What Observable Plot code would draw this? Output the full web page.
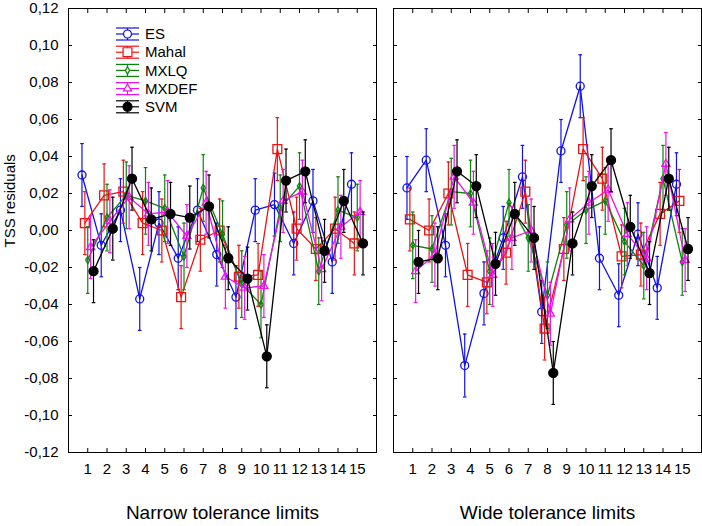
<!DOCTYPE html>
<html><head><meta charset="utf-8">
<script src="https://cdn.jsdelivr.net/npm/d3@7"></script>
<script src="https://cdn.jsdelivr.net/npm/@observablehq/plot@0.6"></script>
<style>
html,body{margin:0;padding:0;background:#fff;}
#wrap{position:relative;width:702px;height:526px;display:flex;font-family:"Liberation Sans",Arial,sans-serif;}
#wrap svg{display:block;}
#legend{position:absolute;left:0;top:0;}
</style></head><body><div id="wrap"></div>
<script>
// ---- data ----
const categories = [1,2,3,4,5,6,7,8,9,10,11,12,13,14,15];
const seriesNames = ["ES","Mahal","MXLQ","MXDEF","SVM"];
const panelTitles = ["Narrow tolerance limits","Wide tolerance limits"];
const yLabel = "TSS residuals";
const yTicks = [-0.12,-0.10,-0.08,-0.06,-0.04,-0.02,0,0.02,0.04,0.06,0.08,0.10,0.12];

const narrowES    = [0.030,-0.008,0.011,-0.037,0.004,-0.015,0.011,-0.013,-0.036,0.011,0.014,-0.007,0.016,-0.017,0.025];
const narrowMahal = [0.004,0.019,0.021,0.004,0.000,-0.036,-0.005,0.000,-0.025,-0.024,0.044,0.001,-0.010,0.001,-0.007];
const narrowMXLQ  = [-0.016,0.007,0.019,0.016,0.012,-0.014,0.023,-0.002,-0.029,-0.040,0.012,0.024,-0.022,0.011,0.007];
const narrowMXDEF = [-0.009,0.005,0.018,0.009,0.010,-0.003,0.015,-0.025,-0.031,-0.030,0.016,0.021,-0.021,0.002,0.010];
const narrowSVM   = [-0.022,0.001,0.028,0.006,0.009,0.007,0.013,-0.015,-0.026,-0.068,0.027,0.032,-0.011,0.016,-0.007];

const wideES    = [0.023,0.038,-0.008,-0.073,-0.034,-0.004,0.029,-0.044,0.043,0.078,-0.015,-0.035,-0.002,-0.031,0.025];
const wideMahal = [0.006,0.000,0.020,-0.024,-0.028,-0.012,0.021,-0.053,-0.010,0.044,0.028,-0.014,-0.013,0.009,0.016];
const wideMXLQ  = [-0.008,-0.010,0.021,0.020,-0.022,0.015,-0.004,-0.035,0.003,0.011,0.016,-0.006,-0.019,0.028,-0.017];
const wideMXDEF = [-0.022,-0.013,0.029,0.015,-0.024,-0.004,0.000,-0.045,0.006,0.015,0.022,-0.002,-0.015,0.036,-0.016];
const wideSVM   = [-0.017,-0.015,0.032,0.024,-0.018,0.009,-0.004,-0.077,-0.007,0.024,0.038,0.002,-0.023,0.028,-0.010];

const errorHalf = [0.017,0.017,0.018,0.017,0.017];

// ---- styles ----
const colors = ["#1010f0","#f01010","#0a850a","#f010f0","#000000"];
const symbols = ["circle","square","diamond","triangle","circle"];
const radii = [4,5,2.2,3,4.5];
const filled = [false,false,false,false,true];
const offsets = [-0.3,-0.15,0,0.15,0.3];
const FONT = '"Liberation Sans", Arial, sans-serif';
const fmt = d => d.toFixed(2).replace(".", ",");
const cap = {draw(ctx, size){const r = Math.sqrt(size/Math.PI); ctx.moveTo(-r,0); ctx.lineTo(r,0);}};

function panel(values, title, isLeft) {
  const marks = [Plot.frame({stroke:"black", strokeWidth:1})];
  seriesNames.forEach((s, i) => {
    const d = values[i].map((v, j) => ({x: categories[j], y: v, e: errorHalf[i]}));
    const X = r => r.x + offsets[i];
    const c = colors[i];
    marks.push(Plot.ruleX(d, {x: X, y1: r => r.y - r.e, y2: r => r.y + r.e, stroke: c, strokeWidth: 1.2}));
    marks.push(Plot.dot(d, {x: X, y: r => r.y + r.e, symbol: cap, r: 1.8, stroke: c, fill: "none", strokeWidth: 1.2}));
    marks.push(Plot.dot(d, {x: X, y: r => r.y - r.e, symbol: cap, r: 1.8, stroke: c, fill: "none", strokeWidth: 1.2}));
    marks.push(Plot.line(d, {x: X, y: "y", stroke: c, strokeWidth: 1.3}));
    marks.push(Plot.dot(d, {x: X, y: "y", symbol: symbols[i], r: radii[i], stroke: c, fill: filled[i] ? c : "none", strokeWidth: 1.3}));
  });
  const blank = () => "";
  marks.push(
    Plot.axisX(categories, {anchor: "bottom", tickSize: 4, dy: -4, tickFormat: blank, label: null}),
    Plot.axisX(categories, {anchor: "top", tickSize: 4, dy: 4, tickFormat: blank, label: null}),
    Plot.axisX(categories, {anchor: "bottom", tickSize: 0, tickPadding: 11, fontSize: 15, label: null}),
    Plot.axisY(yTicks, {anchor: "left", tickSize: 4, dx: 4, tickFormat: blank, label: null}),
    Plot.axisY(yTicks, {anchor: "right", tickSize: 4, dx: -4, tickFormat: blank, label: null}),
    Plot.text([title], {frameAnchor: "bottom", text: d => d, dy: 66, fontSize: 19})
  );
  if (isLeft) {
    marks.push(
      Plot.axisY(yTicks, {anchor: "left", tickSize: 0, tickPadding: 10, tickFormat: fmt, fontSize: 15, label: null}),
      Plot.text([yLabel], {frameAnchor: "left", text: d => d, rotate: -90, dx: -58, dy: 17, fontSize: 15})
    );
  }
  return Plot.plot({
    width: isLeft ? 377 : 325,
    height: 526,
    marginTop: 8,
    marginBottom: 74,
    marginLeft: isLeft ? 68 : 16,
    marginRight: 1,
    x: {domain: [0, 16], label: null},
    y: {domain: [-0.12, 0.12], label: null},
    style: {fontFamily: FONT, fontSize: "15px", color: "black", background: "white", overflow: "visible"},
    marks
  });
}

const wrap = document.getElementById("wrap");
wrap.appendChild(panel([narrowES, narrowMahal, narrowMXLQ, narrowMXDEF, narrowSVM], panelTitles[0], true));
wrap.appendChild(panel([wideES, wideMahal, wideMXLQ, wideMXDEF, wideSVM], panelTitles[1], false));

// ---- legend (inside left panel) ----
const symTypes = {circle: d3.symbolCircle, square: d3.symbolSquare, diamond: d3.symbolDiamond, triangle: d3.symbolTriangle};
const leg = d3.select(wrap).append("svg").attr("id","legend").attr("width",260).attr("height",130);
seriesNames.forEach((s, i) => {
  const y = 34 + 18.2 * i, cx = 127.5, c = colors[i];
  const g = leg.append("g").attr("stroke", c).attr("stroke-width", 1.2).attr("fill", "none");
  [-6, 0, 6].forEach(o => g.append("line").attr("x1", 116).attr("x2", 139).attr("y1", y + o).attr("y2", y + o));
  g.append("line").attr("x1", cx).attr("x2", cx).attr("y1", y - 6).attr("y2", y + 6);
  g.append("path").attr("transform", `translate(${cx},${y})`)
    .attr("d", d3.symbol(symTypes[symbols[i]], radii[i] * radii[i] * Math.PI)())
    .attr("fill", filled[i] ? c : "white");
  leg.append("text").attr("x", 145).attr("y", y).attr("dy", "0.35em")
    .attr("font-family", FONT).attr("font-size", 15).attr("fill", "black").text(s);
});
</script></body></html>
